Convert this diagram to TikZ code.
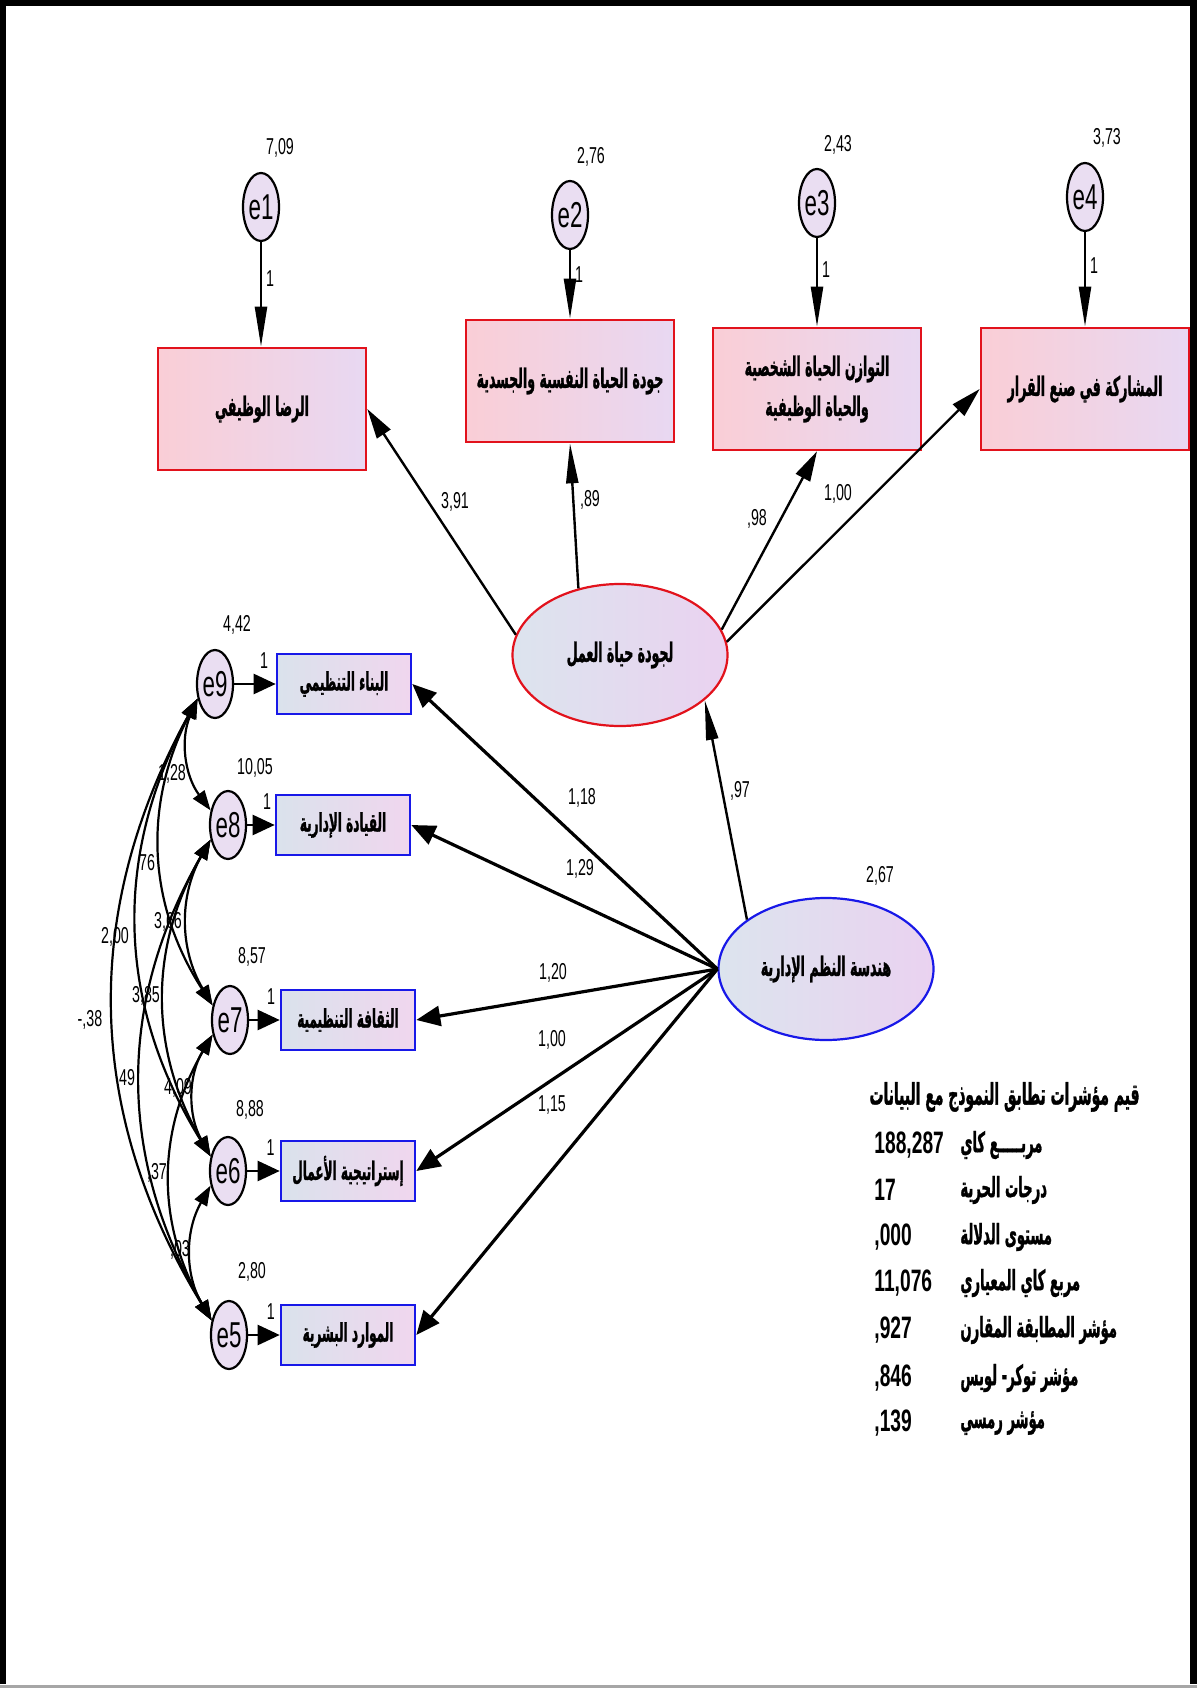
\documentclass[tikz,border=0pt]{standalone}
\usepackage{fontspec}
\setmainfont{Liberation Sans}
\newfontfamily\numfont[FakeStretch=0.62]{Liberation Sans}
\newfontfamily\arabicfont[Script=Arabic,FakeStretch=0.47,BoldFeatures={FakeBold=1}]{DejaVu Sans}
\TeXXeTstate=1
\usetikzlibrary{shapes.geometric,arrows.meta}
\definecolor{boxred}{RGB}{226,18,28}
\definecolor{boxblue}{RGB}{24,24,232}
\definecolor{redL}{RGB}{250,206,214}
\definecolor{redR}{RGB}{232,216,242}
\definecolor{blueL}{RGB}{218,226,236}
\definecolor{blueR}{RGB}{240,214,238}
\definecolor{latL}{RGB}{220,228,238}
\definecolor{latR}{RGB}{234,210,240}
\definecolor{errfill}{RGB}{234,222,242}

\begin{document}
\begin{tikzpicture}[x=0.5pt,y=0.5pt,
	errnode/.style={ellipse,draw,line width=1.1pt,fill=errfill,inner sep=0,minimum width=18pt,minimum height=34pt,font=\numfont\fontsize{18}{18}\selectfont},
	redbox/.style={rectangle,draw=boxred,line width=1.3pt,left color=redL,right color=redR,inner sep=0,minimum width=104pt,minimum height=61pt,align=center,font=\arabicfont\bfseries\fontsize{13.4}{20}\selectfont},
	bluebox/.style={rectangle,draw=boxblue,line width=1.3pt,left color=blueL,right color=blueR,inner sep=0,minimum width=67pt,minimum height=30pt,font=\arabicfont\bfseries\fontsize{12.8}{14}\selectfont},
	latent/.style={ellipse,line width=1.1pt,left color=latL,right color=latR,inner sep=0,minimum width=107.5pt,minimum height=71pt,font=\arabicfont\bfseries\fontsize{13.4}{15}\selectfont},
	val/.style={font=\numfont\fontsize{11.5}{12}\selectfont,inner sep=0},
	fitnum/.style={font=\numfont\bfseries\fontsize{15.5}{16}\selectfont,anchor=west,inner sep=0},
	fitlbl/.style={font=\arabicfont\bfseries\fontsize{14}{16}\selectfont,anchor=west,inner sep=0},
	load/.style={line width=1.2pt,-{Triangle[length=20pt,width=6pt]}},
	effect/.style={line width=1.2pt,-{Triangle[length=15pt,width=8pt]}},
	indic/.style={line width=1.6pt,-{Triangle[length=12pt,width=10pt]}},
	errline/.style={line width=1.2pt,-{Triangle[length=11pt,width=10pt]}},
	cov/.style={line width=1.1pt,{Triangle[length=10pt,width=7pt]}-{Triangle[length=10pt,width=7pt]}}]
	\useasboundingbox (0,0) rectangle (1197,-1689);
	\draw[line width=3.2pt] (3.2,-1684) -- (3.2,-3.2) -- (1193.6,-3.2) -- (1193.6,-1684);
	\draw[black!35,line width=1.4pt] (0,-1686.5) -- (1197,-1686.5);

	\node[errnode] (e1) at (261,-207) {e1};
	\node[errnode] (e2) at (570,-215) {e2};
	\node[errnode] (e3) at (817,-203) {e3};
	\node[errnode] (e4) at (1085,-197) {e4};
	\node[redbox] (b1) at (262,-409) {\beginR الرضا الوظيفي\endR};
	\node[redbox] (b2) at (570,-381) {\beginR جودة الحياة النفسية والجسدية\endR};
	\node[redbox] (b3) at (817,-389) {\beginR التوازن الحياة الشخصية\endR\\\beginR والحياة الوظيفية\endR};
	\node[redbox] (b4) at (1085,-389) {\beginR المشاركة في صنع القرار\endR};
	\node[val] (v1) at (280,-148) {7,09};
	\node[val] (v2) at (591,-157) {2,76};
	\node[val] (v3) at (838,-145) {2,43};
	\node[val] (v4) at (1107,-138) {3,73};
	\draw[load] (e1.south) -- (e1.south |- b1.north) node[val,pos=0.35,right=2pt] {1};
	\draw[load] (e2.south) -- (e2.south |- b2.north) node[val,pos=0.35,right=2pt] {1};
	\draw[load] (e3.south) -- (e3.south |- b3.north) node[val,pos=0.35,right=2pt] {1};
	\draw[load] (e4.south) -- (e4.south |- b4.north) node[val,pos=0.35,right=2pt] {1};

	\node[latent,draw=boxred] (gdwa) at (620,-655) {\beginR لجودة حياة العمل\endR};
	\node[latent,draw=boxblue] (hndsa) at (826,-969) {\beginR هندسة النظم الإدارية\endR};
	\node[val] (v0) at (880,-876) {2,67};
	\draw[effect] (gdwa.169) -- (b1.east);
	\draw[load] (gdwa.122) -- (b2.south);
	\draw[effect] (gdwa.14) -- (b3.south);
	\draw[effect] (gdwa.7) -- (b4.west);
	\node[val] (p1) at (455,-502) {3,91};
	\node[val] (p2) at (590,-500) {,89};
	\node[val] (p3) at (757,-519) {,98};
	\node[val] (p4) at (838,-494) {1,00};
	\draw[load] (hndsa.148) -- (gdwa.332);
	\node[val] (p0) at (740,-791) {,97};

	\node[errnode] (e9) at (215,-684) {e9};
	\node[errnode] (e8) at (228,-825) {e8};
	\node[errnode] (e7) at (230,-1020) {e7};
	\node[errnode] (e6) at (228,-1171) {e6};
	\node[errnode] (e5) at (229,-1335) {e5};
	\node[bluebox] (b9) at (344,-684) {\beginR البناء التنظيمي\endR};
	\node[bluebox] (b8) at (343,-825) {\beginR القيادة الإدارية\endR};
	\node[bluebox] (b7) at (348,-1020) {\beginR الثقافة التنظيمية\endR};
	\node[bluebox] (b6) at (348,-1171) {\beginR إستراتيجية الأعمال\endR};
	\node[bluebox] (b5) at (348,-1335) {\beginR الموارد البشرية\endR};
	\node[val] (v9) at (237,-625) {4,42};
	\node[val] (v8) at (255,-768) {10,05};
	\node[val] (v7) at (252,-957) {8,57};
	\node[val] (v6) at (250,-1110) {8,88};
	\node[val] (v5) at (252,-1272) {2,80};
	\draw[errline] (e9) -- (b9) node[val,pos=0.72,above=7pt] {1};
	\draw[errline] (e8) -- (b8) node[val,pos=0.72,above=7pt] {1};
	\draw[errline] (e7) -- (b7) node[val,pos=0.72,above=7pt] {1};
	\draw[errline] (e6) -- (b6) node[val,pos=0.72,above=7pt] {1};
	\draw[errline] (e5) -- (b5) node[val,pos=0.72,above=7pt] {1};

	\draw[indic] (hndsa.west) -- (b9.east);
	\draw[indic] (hndsa.west) -- (b8.east);
	\draw[indic] (hndsa.west) -- (b7.east);
	\draw[indic] (hndsa.west) -- (b6.east);
	\draw[indic] (hndsa.west) -- (b5.east);
	\node[val] (p9) at (582,-798) {1,18};
	\node[val] (p8) at (580,-869) {1,29};
	\node[val] (p7) at (553,-973) {1,20};
	\node[val] (p6) at (552,-1040) {1,00};
	\node[val] (p5) at (552,-1105) {1,15};

	\draw[cov] (e9.220) to[bend right=30] (e8.140);
	\draw[cov] (e9.220) to[bend right=30] (e7.140);
	\draw[cov] (e9.220) to[bend right=30] (e6.140);
	\draw[cov] (e9.220) to[bend right=30] (e5.140);
	\draw[cov] (e8.220) to[bend right=30] (e7.140);
	\draw[cov] (e8.220) to[bend right=30] (e6.140);
	\draw[cov] (e8.220) to[bend right=30] (e5.140);
	\draw[cov] (e7.220) to[bend right=30] (e6.140);
	\draw[cov] (e7.220) to[bend right=30] (e5.140);
	\draw[cov] (e6.220) to[bend right=30] (e5.140);
	\node[val] (c98) at (172,-774) {1,28};
	\node[val] (c97) at (147,-863) {76};
	\node[val] (c87) at (168,-922) {3,66};
	\node[val] (c96) at (115,-937) {2,00};
	\node[val] (c86) at (146,-996) {3,85};
	\node[val] (c95) at (90,-1020) {-,38};
	\node[val] (c85) at (127,-1078) {49};
	\node[val] (c76) at (178,-1088) {4,09};
	\node[val] (c75) at (157,-1173) {,37};
	\node[val] (c65) at (180,-1250) {,03};

	\node[fitlbl,anchor=east,font=\arabicfont\bfseries\fontsize{14.8}{16}\selectfont] (fit0) at (1140,-1097) {\beginR قيم مؤشرات تطابق النموذج مع البيانات\endR};
	\node[fitnum] (n1) at (874,-1145) {188,287};
	\node[fitnum] (n2) at (874,-1190) {17};
	\node[fitnum] (n3) at (874,-1237) {,000};
	\node[fitnum] (n4) at (874,-1283) {11,076};
	\node[fitnum] (n5) at (874,-1330) {,927};
	\node[fitnum] (n6) at (874,-1378) {,846};
	\node[fitnum] (n7) at (874,-1423) {,139};
	\node[fitlbl] (l1) at (960,-1145) {\beginR مربـــــع كاي\endR};
	\node[fitlbl] (l2) at (960,-1190) {\beginR درجات الحرية\endR};
	\node[fitlbl] (l3) at (960,-1237) {\beginR مستوى الدلالة\endR};
	\node[fitlbl] (l4) at (960,-1283) {\beginR مربع كاي المعياري\endR};
	\node[fitlbl] (l5) at (960,-1330) {\beginR مؤشر المطابقة المقارن\endR};
	\node[fitlbl] (l6) at (960,-1378) {\beginR مؤشر توكر- لويس\endR};
	\node[fitlbl] (l7) at (960,-1423) {\beginR مؤشر رمسي\endR};
\end{tikzpicture}
\end{document}
